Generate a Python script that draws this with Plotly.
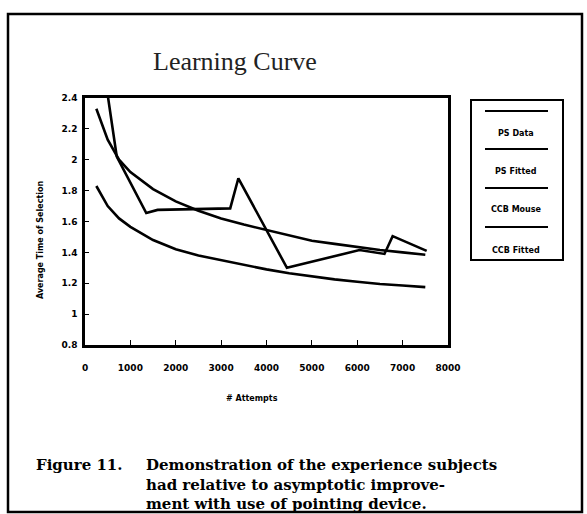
import plotly.graph_objects as go

# ---- data ----
data_x = [250, 700, 1350, 1600, 3200, 3380, 4450, 6050, 6600, 6780, 7530]
data_y = [2.92, 2.02, 1.655, 1.675, 1.685, 1.88, 1.30, 1.415, 1.39, 1.505, 1.41]

fit_x = [250, 500, 750, 1000, 1500, 2000, 2500, 3000, 3500, 4000, 4500, 5000, 5500, 6000, 6500, 7000, 7500]
fit_upper = [2.33, 2.13, 2.00, 1.92, 1.81, 1.73, 1.67, 1.62, 1.58, 1.545, 1.51, 1.475, 1.455, 1.435, 1.415, 1.40, 1.385]
fit_lower = [1.83, 1.70, 1.62, 1.565, 1.48, 1.42, 1.38, 1.35, 1.32, 1.29, 1.265, 1.245, 1.225, 1.21, 1.195, 1.185, 1.175]

legend_labels = ["PS Data", "PS Fitted", "CCB Mouse", "CCB Fitted"]
x_ticks = [0, 1000, 2000, 3000, 4000, 5000, 6000, 7000, 8000]
y_ticks = [0.8, 1, 1.2, 1.4, 1.6, 1.8, 2, 2.2, 2.4]

# ---- layout geometry (pixels) ----
W, H = 587, 514
L, R, T, B = 85, 448, 98, 345


def px(x, y):
    return (x - L) / (R - L), (B - y) / (B - T)


fig = go.Figure()
line_style = dict(color="black", width=2.6)
fig.add_trace(go.Scatter(x=data_x, y=data_y, mode="lines", line=line_style, name=legend_labels[0]))
fig.add_trace(go.Scatter(x=fit_x, y=fit_upper, mode="lines", line=line_style, name=legend_labels[1]))
fig.add_trace(go.Scatter(x=fit_x, y=fit_lower, mode="lines", line=line_style, name=legend_labels[3]))

tickfont = dict(family="DejaVu Sans", size=9, color="black", weight="bold")
fig.update_xaxes(range=[0, 8000], tickvals=x_ticks, ticktext=[str(v) for v in x_ticks],
                 showline=True, mirror=True, linecolor="black", linewidth=2.5,
                 ticks="inside", ticklen=5, tickcolor="black", showgrid=False, zeroline=False,
                 tickfont=tickfont, ticklabelstandoff=12)
fig.update_yaxes(range=[0.8, 2.4], tickvals=y_ticks, ticktext=[("%g" % v) for v in y_ticks],
                 showline=True, mirror=True, linecolor="black", linewidth=2.5,
                 ticks="inside", ticklen=4, tickcolor="black", showgrid=False, zeroline=False,
                 tickfont=tickfont, ticklabelstandoff=3)

shapes = []
annotations = []

# outer frame
x0, y1 = px(8, 14)
x1, y0 = px(582, 512)
shapes.append(dict(type="rect", xref="paper", yref="paper", x0=x0, y0=y0, x1=x1, y1=y1,
                   line=dict(color="black", width=2.5)))

# legend box
lx0, ly1 = px(471, 100)
lx1, ly0 = px(563, 260)
shapes.append(dict(type="rect", xref="paper", yref="paper", x0=lx0, y0=ly0, x1=lx1, y1=ly1,
                   line=dict(color="black", width=2)))
line_rows = [111, 149, 188, 227]
text_rows = [133, 171, 209, 250]
for lab, ly, ty in zip(legend_labels, line_rows, text_rows):
    a0, b0 = px(485, ly)
    a1, _ = px(548, ly)
    shapes.append(dict(type="line", xref="paper", yref="paper", x0=a0, x1=a1, y0=b0, y1=b0,
                       line=dict(color="black", width=2.2)))
    tx, tyy = px(516, ty)
    annotations.append(dict(text=lab, xref="paper", yref="paper", x=tx, y=tyy, showarrow=False,
                            xanchor="center", yanchor="middle",
                            font=dict(family="DejaVu Sans", size=8, color="black", weight="bold")))

# title
tx, ty = px(235, 62)
annotations.append(dict(text="Learning Curve", xref="paper", yref="paper", x=tx, y=ty, showarrow=False,
                        xanchor="center", yanchor="middle",
                        font=dict(family="Liberation Serif", size=26, color="#222")))

# axis titles
tx, ty = px(252, 398)
annotations.append(dict(text="# Attempts", xref="paper", yref="paper", x=tx, y=ty, showarrow=False,
                        xanchor="center", yanchor="middle",
                        font=dict(family="DejaVu Sans", size=8, color="black", weight="bold")))
tx, ty = px(40, 240)
annotations.append(dict(text="Average Time of Selection", xref="paper", yref="paper", x=tx, y=ty,
                        showarrow=False, textangle=-90, xanchor="center", yanchor="middle",
                        font=dict(family="DejaVu Sans", size=8, color="black", weight="bold")))

# caption
cap_font = dict(family="DejaVu Serif", size=15, color="black", weight="bold")
tx, ty = px(35, 465)
annotations.append(dict(text="Figure 11.", xref="paper", yref="paper", x=tx, y=ty, showarrow=False,
                        xanchor="left", yanchor="middle", font=cap_font, borderpad=0))
caption_lines = ["Demonstration of the experience subjects",
                 "had relative to asymptotic improve-",
                 "ment with use of pointing device."]
tx, ty = px(145, 484.5)
annotations.append(dict(text="<br>".join(caption_lines), xref="paper", yref="paper", x=tx, y=ty,
                        showarrow=False, xanchor="left", yanchor="middle", align="left",
                        font=cap_font, borderpad=0))

fig.update_layout(width=W, height=H, margin=dict(l=L, r=W - R, t=T, b=H - B),
                  paper_bgcolor="white", plot_bgcolor="white", showlegend=False,
                  shapes=shapes, annotations=annotations)

fig.write_html("out.html", config={"displayModeBar": False},
               post_script="document.body.style.margin='0';document.body.style.overflow='hidden';")
